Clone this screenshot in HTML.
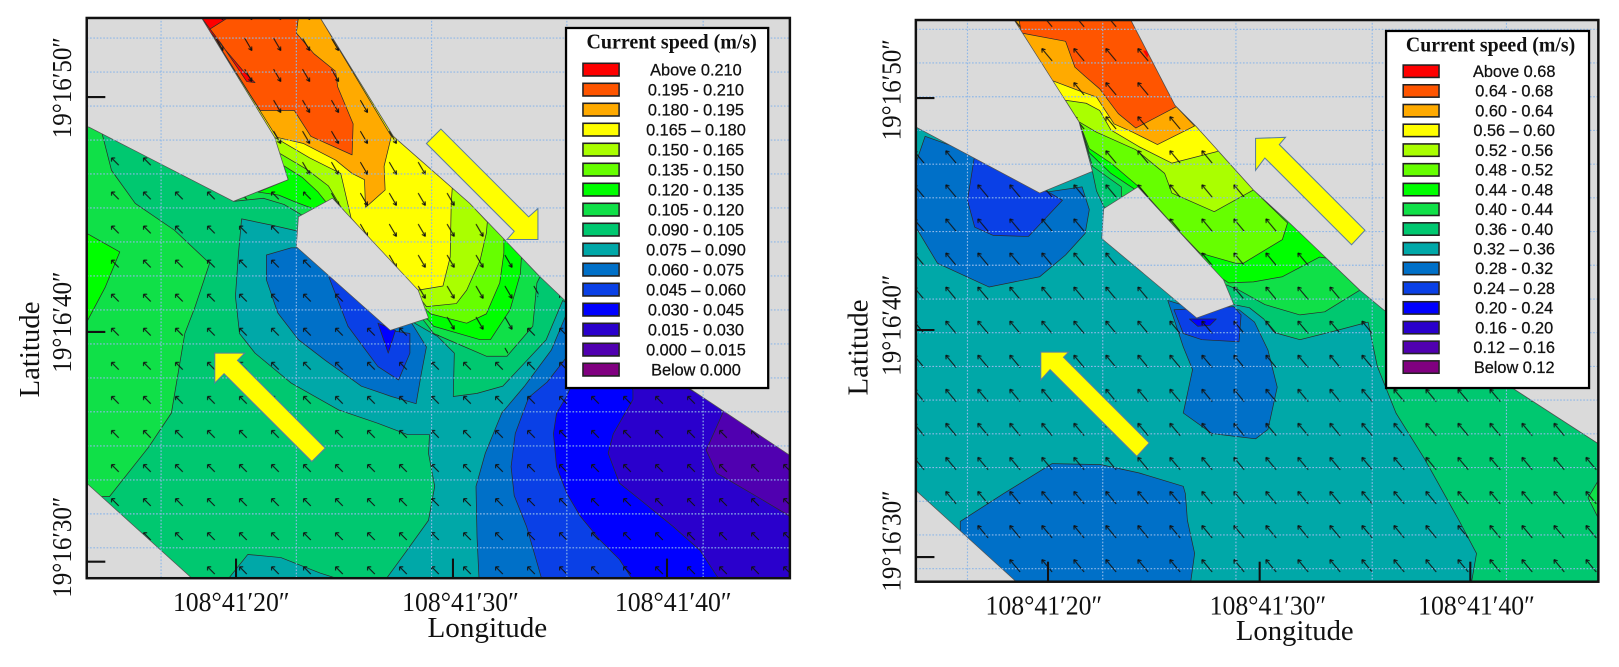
<!DOCTYPE html>
<html><head><meta charset="utf-8"><style>
html,body{margin:0;padding:0;background:#fff;}
svg{display:block;}
.ax{font-family:"Liberation Serif",serif;fill:#111;}
.lg{font-family:"Liberation Sans",sans-serif;font-size:15.8px;fill:#111;stroke:#111;stroke-width:0.25;text-anchor:middle;}
.c{stroke:#2b2b2b;stroke-width:0.7;stroke-linejoin:round;}
.land{fill:#dadada;stroke:#555;stroke-width:0.7;}
.grid{stroke:#8fb8e8;stroke-width:1.1;stroke-dasharray:1.6 1.6;fill:none;}
.yarr{fill:#ffff00;stroke:#5a7ea0;stroke-width:1;}
.sw{stroke:#222;stroke-width:1.5;}
</style></head><body>
<svg width="1619" height="667" viewBox="0 0 1568 646" preserveAspectRatio="none" xmlns="http://www.w3.org/2000/svg">
<defs>
<clipPath id="clipL"><rect x="84" y="17.4" width="681" height="542.6"/></clipPath>
<clipPath id="clipR"><rect x="887" y="19.4" width="661" height="544"/></clipPath>
<clipPath id="clipLnw"><path clip-rule="evenodd" d="M84,17 H765 V560 H84 Z M195,17 L310,17 381,132 455,197 523,268 520,300 490,345 420,323 330,210 279,174 266,133 Z"/></clipPath>
<clipPath id="clipLse"><path d="M195,17 L310,17 381,132 455,197 523,268 520,300 490,345 420,323 330,210 279,174 266,133 Z"/></clipPath>
<pattern id="pNW" width="31" height="33" patternUnits="userSpaceOnUse" x="2" y="6">
<path d="M20,22 L13,15 M13,15 l0,3.5 M13,15 l3.5,0" stroke="#111" stroke-width="1" fill="none"/>
</pattern>
<pattern id="pSE" width="28" height="30" patternUnits="userSpaceOnUse" x="4" y="0">
<path d="M9,7 L16,19 M16,19 l-0.3,-4 M16,19 l-3.4,-2" stroke="#111" stroke-width="1" fill="none"/>
</pattern>
<pattern id="pNW2" width="31" height="33" patternUnits="userSpaceOnUse" x="6" y="2">
<path d="M21,24 L11,12 M11,12 l0.3,4 M11,12 l3.6,1.2" stroke="#111" stroke-width="1" fill="none"/>
</pattern>
</defs>

<!-- ================= LEFT PANEL ================= -->
<g clip-path="url(#clipL)">
<rect x="84" y="17" width="682" height="545" fill="#00c870"/>
<polygon class="c" fill="#10e048" points="84,120 98,126 108,165 131,197 169,223 203,255 189,297 179,323 166,400 144,433 106,481 84,481"/>
<polygon class="c" fill="#00ff00" points="84,226 116,244 102,278 84,312"/>
<polygon class="c" fill="#00a8a8" points="289,224 287,239 378,320 400,312 424,326 440,342 439,384 462,381 487,374 529,329 545,291 672,379 765,441 765,562 373,562 392,536 415,504 421,471 415,439 416,421 395,421 366,410 328,397 282,371 247,342 232,323 228,287 231,245 234,212 263,218"/>
<polygon class="c" fill="#00a8a8" points="220,562 240,537 272,540 310,555 332,562"/>
<polygon class="c" fill="#0070c8" points="258,247 282,240 289,240 320,240 390,300 400,315 413,336 408,362 403,391 379,384 350,374 315,349 289,329 269,303 258,271"/>
<polygon class="c" fill="#0070c8" points="552,296 680,385 765,441 765,562 464,562 462,520 461,471 470,439 486,400 508,374 534,339"/>
<polygon class="c" fill="#0a40e6" points="318,267 337,316 366,355 386,368 397,342 397,323 378,320 350,280"/>
<polygon class="c" fill="#0a40e6" points="575,312 765,441 765,562 525,562 510,510 498,480 495,452 499,420 512,385 530,370"/>
<polygon class="c" fill="#0000ff" points="366,313 376,342 383,320"/>
<polygon class="c" fill="#0000ff" points="560,360 620,340 765,441 765,562 613,562 600,542 581,523 562,500 549,478 539,452 536,420 539,400 548,385"/>
<polygon class="c" fill="#2a00cc" points="613,378 600,340 765,430 765,562 697,562 678,533 652,510 620,484 600,468 589,439 594,420 613,387"/>
<polygon class="c" fill="#5000b0" points="700,400 690,380 765,430 765,500 740,485 694,458 684,436"/>

<polygon class="c" fill="#10e048" points="195,17 266,133 279,174 226,195 255,192 275,198 292,208 350,250 400,300 410,310 420,323 471,345 491,345 516,316 520,274 523,268 455,197 381,132 310,17"/>
<polygon class="c" fill="#00ff00" points="195,17 266,133 279,174 250,186 270,189 287,196 303,202 350,250 400,300 415,310 420,316 465,329 475,329 494,300 504,265 505,249 455,197 381,132 310,17"/>
<polygon class="c" fill="#66ff00" points="195,17 266,133 274,160 293,172 308,186 316,196 350,250 400,290 413,300 417,304 452,313 471,304 484,274 488,245 488,231 455,197 381,132 310,17"/>
<polygon class="c" fill="#aaff00" points="195,17 266,133 270,148 297,164 318,180 330,200 360,240 400,285 406,288 413,297 442,294 452,281 465,252 471,226 472,215 455,197 381,132 310,17"/>
<polygon class="c" fill="#ffff00" points="195,17 266,133 300,153 330,168 340,211 380,258 405,281 429,277 436,249 437,197 438,182 381,132 310,17"/>
<polygon class="c" fill="#ffaa00" points="195,17 268,133 294,139 325,155 341,168 353,174 354,201 373,184 372,161 379,132 310,17"/>
<polygon class="c" fill="#ff5500" points="195,17 289,17 287,32 304,52 325,69 327,84 342,120 341,150 301,132 285,107 252,107"/>
<polygon class="c" fill="#ff0000" points="195,17 221,17 202,29 235,68 247,80 239,79 214,42"/>

<rect x="84" y="17" width="682" height="545" fill="url(#pNW)" clip-path="url(#clipLnw)"/>
<rect x="84" y="17" width="682" height="545" fill="url(#pSE)" clip-path="url(#clipLse)"/>

<polygon class="land" points="84,17 195,17 266,133 279,174 226,195 86,123 84,123"/>
<polygon class="land" points="310,17 381,132 455,197 523,268 546,290 672,379 765,441 767,441 767,17"/>
<polygon class="land" points="322,192 289,210 287,239 378,320 415,308 405,281"/>
<polygon class="land" points="84,468 188,562 84,562"/>

<g class="grid">
<line x1="156" y1="17" x2="156" y2="560"/><line x1="287" y1="17" x2="287" y2="560"/><line x1="418" y1="17" x2="418" y2="560"/><line x1="549" y1="17" x2="549" y2="560"/><line x1="681" y1="17" x2="681" y2="560"/>
<line x1="84" y1="36.9" x2="765" y2="36.9"/><line x1="84" y1="69.8" x2="765" y2="69.8"/><line x1="84" y1="102.7" x2="765" y2="102.7"/><line x1="84" y1="135.6" x2="765" y2="135.6"/><line x1="84" y1="168.5" x2="765" y2="168.5"/><line x1="84" y1="201.4" x2="765" y2="201.4"/><line x1="84" y1="234.3" x2="765" y2="234.3"/><line x1="84" y1="267.3" x2="765" y2="267.3"/><line x1="84" y1="300.2" x2="765" y2="300.2"/><line x1="84" y1="333.1" x2="765" y2="333.1"/><line x1="84" y1="366" x2="765" y2="366"/><line x1="84" y1="398.9" x2="765" y2="398.9"/><line x1="84" y1="431.9" x2="765" y2="431.9"/><line x1="84" y1="464.8" x2="765" y2="464.8"/><line x1="84" y1="497.7" x2="765" y2="497.7"/><line x1="84" y1="530.6" x2="765" y2="530.6"/>
</g>

<polygon class="yarr" points="413,139 427,125 512,210 521,202 521,232 491,232 498,224"/>
<polygon class="yarr" points="208,342 237,342 230,349 315,434 302,447 217,362 208,371"/>
</g>

<rect x="84" y="17.4" width="681" height="542.6" fill="none" stroke="#111" stroke-width="2.4"/>
<g stroke="#111" stroke-width="2">
<line x1="84" y1="94" x2="102" y2="94"/><line x1="84" y1="321.5" x2="102" y2="321.5"/><line x1="84" y1="544" x2="102" y2="544"/>
<line x1="228.6" y1="560" x2="228.6" y2="541"/><line x1="438.7" y1="560" x2="438.7" y2="541"/><line x1="646" y1="560" x2="646" y2="541"/>
</g>

<!-- left legend -->
<rect x="548.2" y="27.1" width="195.8" height="348.7" fill="#fff" stroke="#000" stroke-width="2.2"/>
<text class="ax" x="650.5" y="47" font-size="20" font-weight="bold" text-anchor="middle" textLength="165" lengthAdjust="spacingAndGlyphs">Current speed (m/s)</text>
<g class="sw">
<rect x="564.6" y="61.3" width="35" height="12.3" fill="#ff0000"/>
<rect x="564.6" y="80.67" width="35" height="12.3" fill="#ff5500"/>
<rect x="564.6" y="100.04" width="35" height="12.3" fill="#ffaa00"/>
<rect x="564.6" y="119.41" width="35" height="12.3" fill="#ffff00"/>
<rect x="564.6" y="138.78" width="35" height="12.3" fill="#aaff00"/>
<rect x="564.6" y="158.15" width="35" height="12.3" fill="#66ff00"/>
<rect x="564.6" y="177.52" width="35" height="12.3" fill="#00ff00"/>
<rect x="564.6" y="196.89" width="35" height="12.3" fill="#10e048"/>
<rect x="564.6" y="216.26" width="35" height="12.3" fill="#00c870"/>
<rect x="564.6" y="235.63" width="35" height="12.3" fill="#00a8a8"/>
<rect x="564.6" y="255" width="35" height="12.3" fill="#0070c8"/>
<rect x="564.6" y="274.37" width="35" height="12.3" fill="#0a40e6"/>
<rect x="564.6" y="293.74" width="35" height="12.3" fill="#0000ff"/>
<rect x="564.6" y="313.11" width="35" height="12.3" fill="#2a00cc"/>
<rect x="564.6" y="332.48" width="35" height="12.3" fill="#5000b0"/>
<rect x="564.6" y="351.85" width="35" height="12.3" fill="#800080"/>
</g>
<g class="lg">
<text x="674" y="73">Above 0.210</text>
<text x="674" y="92.4">0.195 - 0.210</text>
<text x="674" y="111.7">0.180 - 0.195</text>
<text x="674" y="131.1">0.165 – 0.180</text>
<text x="674" y="150.5">0.150 - 0.165</text>
<text x="674" y="169.9">0.135 - 0.150</text>
<text x="674" y="189.2">0.120 - 0.135</text>
<text x="674" y="208.6">0.105 - 0.120</text>
<text x="674" y="228">0.090 - 0.105</text>
<text x="674" y="247.3">0.075 – 0.090</text>
<text x="674" y="266.7">0.060 - 0.075</text>
<text x="674" y="286.1">0.045 – 0.060</text>
<text x="674" y="305.4">0.030 - 0.045</text>
<text x="674" y="324.8">0.015 - 0.030</text>
<text x="674" y="344.2">0.000 – 0.015</text>
<text x="674" y="363.6">Below 0.000</text>
</g>

<!-- left axis labels -->
<text class="ax" font-size="27" text-anchor="middle" textLength="98" lengthAdjust="spacingAndGlyphs" transform="translate(69,85) rotate(-90)">19°16′50″</text>
<text class="ax" font-size="27" text-anchor="middle" textLength="98" lengthAdjust="spacingAndGlyphs" transform="translate(69,312) rotate(-90)">19°16′40″</text>
<text class="ax" font-size="27" text-anchor="middle" textLength="98" lengthAdjust="spacingAndGlyphs" transform="translate(69,530) rotate(-90)">19°16′30″</text>
<text class="ax" font-size="28" text-anchor="middle" textLength="93" lengthAdjust="spacingAndGlyphs" transform="translate(38,338.5) rotate(-90)">Latitude</text>
<text class="ax" x="224" y="592" font-size="27" text-anchor="middle" textLength="113" lengthAdjust="spacingAndGlyphs">108°41′20″</text>
<text class="ax" x="446" y="592" font-size="27" text-anchor="middle" textLength="113" lengthAdjust="spacingAndGlyphs">108°41′30″</text>
<text class="ax" x="652" y="592" font-size="27" text-anchor="middle" textLength="113" lengthAdjust="spacingAndGlyphs">108°41′40″</text>
<text class="ax" x="472" y="617" font-size="28" text-anchor="middle" textLength="116" lengthAdjust="spacingAndGlyphs">Longitude</text>

<!-- ================= RIGHT PANEL ================= -->
<g clip-path="url(#clipR)">
<rect x="887" y="19" width="663" height="546" fill="#00a8a8"/>
<polygon class="c" fill="#0070c8" points="887,158 896,132 960,155 1007,187 1048,181 1055,203 1051,226 1032,247 1007,268 958,278 908,255 887,220"/>
<polygon class="c" fill="#0a40e6" points="944,150 937,194 944,220 962,228 996,229 1029,194 1017,187 1000,180"/>
<polygon class="c" fill="#0070c8" points="1131,291 1146,336 1155,358 1146,400 1174,420 1216,425 1228,416 1237,375 1228,339 1215,312 1200,300 1160,300"/>
<polygon class="c" fill="#0a40e6" points="1137,300 1146,323 1164,329 1200,331 1202,305 1195,297"/>
<polygon class="c" fill="#0000ff" points="1152,309 1160,316 1172,315 1178,309"/>
<polygon class="c" fill="#0070c8" points="930,505 972,478 1019,449 1066,450 1103,458 1146,471 1148,478 1150,504 1157,536 1153,565 930,565"/>

<polygon class="c" fill="#00c870" points="982,19 1045,118 1058,166 1062,185 1069,200 1120,240 1180,290 1195,295 1210,298 1224,309 1234,322 1259,329 1295,320 1325,312 1334,355 1352,400 1380,445 1413,504 1430,536 1425,565 1550,565 1550,431 1465,376 1340,300 1317,281 1249,216 1214,184 1159,123 1138,102 1095,19"/>
<polygon class="c" fill="#10e048" points="1550,462 1538,482 1550,506"/>
<polygon class="c" fill="#10e048" points="982,19 1045,118 1058,161 1086,181 1086,191 1120,230 1170,280 1188,276 1200,281 1225,295 1259,305 1283,302 1317,281 1249,216 1214,184 1159,123 1138,102 1095,19"/>
<polygon class="c" fill="#00ff00" points="982,19 1045,118 1055,148 1076,168 1100,184 1130,220 1160,245 1166,258 1190,274 1214,273 1242,268 1278,249 1285,250 1249,216 1214,184 1159,123 1138,102 1095,19"/>
<polygon class="c" fill="#66ff00" points="982,19 1045,118 1055,144 1076,158 1103,181 1140,222 1162,245 1197,255 1204,255 1242,232 1247,216 1214,184 1159,123 1138,102 1095,19"/>
<polygon class="c" fill="#aaff00" points="982,19 1045,118 1062,128 1100,145 1128,168 1135,187 1176,205 1214,184 1159,123 1138,102 1095,19"/>
<polygon class="c" fill="#ffff00" points="982,19 1031,97 1052,100 1065,107 1076,126 1103,142 1135,158 1178,147 1180,146 1159,123 1138,102 1095,19"/>
<polygon class="c" fill="#ffaa00" points="982,19 1019,78 1048,89 1062,94 1079,120 1097,128 1121,140 1157,122 1138,102 1095,19"/>
<polygon class="c" fill="#ff5500" points="987,19 1095,19 1138,102 1140,103 1100,124 1083,110 1065,86 1051,74 1041,65 1032,40 989,32"/>
<polygon fill="#ff0000" points="1107,49 1114,49 1111,56"/>

<rect x="887" y="19" width="663" height="546" fill="url(#pNW2)"/>

<polygon class="land" points="887,19 982,19 1045,118 1058,166 1007,187 887,123"/>
<polygon class="land" points="1095,19 1138,102 1159,123 1214,184 1249,216 1317,281 1340,300 1465,376 1550,431 1550,19"/>
<polygon class="land" points="1102,181 1069,202 1067,231 1159,308 1195,295 1185,271"/>
<polygon class="land" points="887,475 986,565 887,565"/>

<g class="grid">
<line x1="937" y1="19" x2="937" y2="564"/><line x1="1068" y1="19" x2="1068" y2="564"/><line x1="1197" y1="19" x2="1197" y2="564"/><line x1="1329" y1="19" x2="1329" y2="564"/><line x1="1459" y1="19" x2="1459" y2="564"/>
<line x1="887" y1="28.4" x2="1548" y2="28.4"/><line x1="887" y1="61" x2="1548" y2="61"/><line x1="887" y1="93.7" x2="1548" y2="93.7"/><line x1="887" y1="126.3" x2="1548" y2="126.3"/><line x1="887" y1="159" x2="1548" y2="159"/><line x1="887" y1="191.6" x2="1548" y2="191.6"/><line x1="887" y1="224.3" x2="1548" y2="224.3"/><line x1="887" y1="256.9" x2="1548" y2="256.9"/><line x1="887" y1="289.6" x2="1548" y2="289.6"/><line x1="887" y1="322.2" x2="1548" y2="322.2"/><line x1="887" y1="354.9" x2="1548" y2="354.9"/><line x1="887" y1="387.5" x2="1548" y2="387.5"/><line x1="887" y1="420.2" x2="1548" y2="420.2"/><line x1="887" y1="452.8" x2="1548" y2="452.8"/><line x1="887" y1="485.5" x2="1548" y2="485.5"/><line x1="887" y1="518.1" x2="1548" y2="518.1"/><line x1="887" y1="550.8" x2="1548" y2="550.8"/>
</g>

<polygon class="yarr" points="1216,134 1245,133 1239,140 1322,223 1309,237 1225,153 1216,165"/>
<polygon class="yarr" points="1008,341 1035,341 1030,346 1113,429 1101,442 1017,358 1008,368"/>
</g>

<rect x="887" y="19.4" width="661" height="544" fill="none" stroke="#111" stroke-width="2.4"/>
<g stroke="#111" stroke-width="2">
<line x1="887" y1="95" x2="905" y2="95"/><line x1="887" y1="319.6" x2="905" y2="319.6"/><line x1="887" y1="539.5" x2="905" y2="539.5"/>
<line x1="1015" y1="563.4" x2="1015" y2="544"/><line x1="1220" y1="563.4" x2="1220" y2="544"/><line x1="1424" y1="563.4" x2="1424" y2="544"/>
</g>

<!-- right legend -->
<rect x="1342.4" y="30" width="196.6" height="345.8" fill="#fff" stroke="#000" stroke-width="2.2"/>
<text class="ax" x="1443.6" y="50" font-size="20" font-weight="bold" text-anchor="middle" textLength="164" lengthAdjust="spacingAndGlyphs">Current speed (m/s)</text>
<g class="sw">
<rect x="1359" y="63" width="34.7" height="12" fill="#ff0000"/>
<rect x="1359" y="82.1" width="34.7" height="12" fill="#ff5500"/>
<rect x="1359" y="101.2" width="34.7" height="12" fill="#ffaa00"/>
<rect x="1359" y="120.3" width="34.7" height="12" fill="#ffff00"/>
<rect x="1359" y="139.4" width="34.7" height="12" fill="#aaff00"/>
<rect x="1359" y="158.5" width="34.7" height="12" fill="#66ff00"/>
<rect x="1359" y="177.6" width="34.7" height="12" fill="#00ff00"/>
<rect x="1359" y="196.7" width="34.7" height="12" fill="#10e048"/>
<rect x="1359" y="215.8" width="34.7" height="12" fill="#00c870"/>
<rect x="1359" y="234.9" width="34.7" height="12" fill="#00a8a8"/>
<rect x="1359" y="254" width="34.7" height="12" fill="#0070c8"/>
<rect x="1359" y="273.1" width="34.7" height="12" fill="#0a40e6"/>
<rect x="1359" y="292.2" width="34.7" height="12" fill="#0000ff"/>
<rect x="1359" y="311.3" width="34.7" height="12" fill="#2a00cc"/>
<rect x="1359" y="330.4" width="34.7" height="12" fill="#5000b0"/>
<rect x="1359" y="349.5" width="34.7" height="12" fill="#800080"/>
</g>
<g class="lg">
<text x="1466.5" y="74.6">Above 0.68</text>
<text x="1466.5" y="93.7">0.64 - 0.68</text>
<text x="1466.5" y="112.8">0.60 - 0.64</text>
<text x="1466.5" y="131.9">0.56 – 0.60</text>
<text x="1466.5" y="151">0.52 - 0.56</text>
<text x="1466.5" y="170.1">0.48 - 0.52</text>
<text x="1466.5" y="189.2">0.44 - 0.48</text>
<text x="1466.5" y="208.3">0.40 - 0.44</text>
<text x="1466.5" y="227.4">0.36 - 0.40</text>
<text x="1466.5" y="246.5">0.32 – 0.36</text>
<text x="1466.5" y="265.6">0.28 - 0.32</text>
<text x="1466.5" y="284.7">0.24 – 0.28</text>
<text x="1466.5" y="303.8">0.20 - 0.24</text>
<text x="1466.5" y="322.9">0.16 - 0.20</text>
<text x="1466.5" y="342">0.12 – 0.16</text>
<text x="1466.5" y="361.1">Below 0.12</text>
</g>

<!-- right axis labels -->
<text class="ax" font-size="27" text-anchor="middle" textLength="98" lengthAdjust="spacingAndGlyphs" transform="translate(872,87) rotate(-90)">19°16′50″</text>
<text class="ax" font-size="27" text-anchor="middle" textLength="98" lengthAdjust="spacingAndGlyphs" transform="translate(872,315) rotate(-90)">19°16′40″</text>
<text class="ax" font-size="27" text-anchor="middle" textLength="98" lengthAdjust="spacingAndGlyphs" transform="translate(872,524) rotate(-90)">19°16′30″</text>
<text class="ax" font-size="28" text-anchor="middle" textLength="93" lengthAdjust="spacingAndGlyphs" transform="translate(840,336.5) rotate(-90)">Latitude</text>
<text class="ax" x="1011" y="595" font-size="27" text-anchor="middle" textLength="113" lengthAdjust="spacingAndGlyphs">108°41′20″</text>
<text class="ax" x="1228" y="595" font-size="27" text-anchor="middle" textLength="113" lengthAdjust="spacingAndGlyphs">108°41′30″</text>
<text class="ax" x="1430" y="595" font-size="27" text-anchor="middle" textLength="113" lengthAdjust="spacingAndGlyphs">108°41′40″</text>
<text class="ax" x="1254" y="620" font-size="28" text-anchor="middle" textLength="114" lengthAdjust="spacingAndGlyphs">Longitude</text>
</svg>
</body></html>
